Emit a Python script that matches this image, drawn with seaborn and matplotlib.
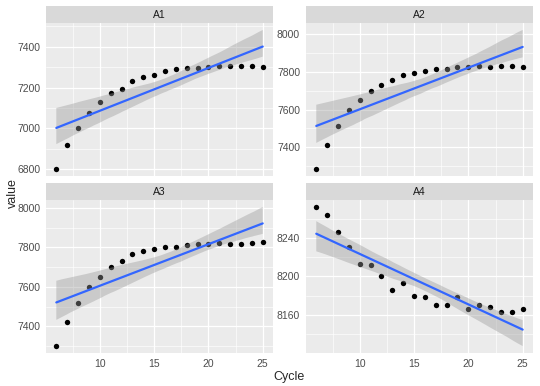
import numpy as np
import pandas as pd
import seaborn as sns
import matplotlib
matplotlib.use("Agg")
import matplotlib.pyplot as plt
from matplotlib.patches import Rectangle
from matplotlib.ticker import MultipleLocator

# values, cycles 6..25
cycles = list(range(6, 26))
a1 = [6800, 6919, 7003, 7076, 7129, 7173, 7195, 7232, 7253, 7261,
      7279, 7290, 7297, 7298, 7300, 7305, 7306, 7308, 7308, 7302]
a2 = [7285, 7412, 7513, 7600, 7649, 7697, 7728, 7756, 7784, 7795,
      7805, 7816, 7812, 7823, 7826, 7831, 7823, 7830, 7831, 7826]
a3 = [7301, 7425, 7521, 7602, 7650, 7702, 7731, 7765, 7782, 7792,
      7800, 7800, 7810, 7818, 7818, 7825, 7820, 7820, 7824, 7829]
a4 = [8272, 8264, 8246, 8230, 8213, 8212, 8200, 8186, 8193, 8180,
      8178, 8170, 8170, 8178, 8166, 8170, 8168, 8163, 8163, 8166]
panels = ["A1", "A2", "A3", "A4"]
y_steps = {"A1": 200, "A2": 200, "A3": 200, "A4": 40}

df = pd.DataFrame({
    "Cycle": cycles * 4,
    "value": a1 + a2 + a3 + a4,
    "panel": np.repeat(panels, len(cycles)),
})

sns.set_style("white")
plt.rcParams["font.family"] = ["Liberation Sans", "DejaVu Sans"]

g = sns.FacetGrid(df, col="panel", col_wrap=2, sharey=False, sharex=True,
                  height=1.93, aspect=1.4, despine=False)
g.map_dataframe(sns.regplot, x="Cycle", y="value", seed=0,
                scatter_kws={"color": "black", "s": 15, "linewidths": 0,
                             "alpha": 1},
                line_kws={"color": "#3366FF", "lw": 1.6})
g.set_titles("")
g.set_axis_labels("", "")

for ax, name in zip(g.axes.flat, panels):
    # recolour the confidence band like ggplot's
    for coll in ax.collections:
        if isinstance(coll, matplotlib.collections.PolyCollection):
            coll.set_alpha(None)
            coll.set_facecolor((0.6, 0.6, 0.6, 0.4))
            coll.set_edgecolor("none")
    ax.set_facecolor("#EBEBEB")
    for s in ax.spines.values():
        s.set_visible(False)
    ax.margins(x=0.05, y=0.05)
    ax.autoscale_view()
    ax.xaxis.set_major_locator(MultipleLocator(5))
    ax.xaxis.set_minor_locator(MultipleLocator(2.5))
    ax.yaxis.set_major_locator(MultipleLocator(y_steps[name]))
    ax.yaxis.set_minor_locator(MultipleLocator(y_steps[name] / 2))
    ax.set_xlim(5.05, 25.95)
    ax.grid(which="major", color="white", lw=0.9)
    ax.grid(which="minor", color="white", lw=0.45)
    ax.set_axisbelow(True)
    ax.tick_params(which="major", length=2.7, width=0.6, color="#333333",
                   labelsize=7.5, labelcolor="#4D4D4D", pad=1.5)
    ax.tick_params(which="minor", length=0)
    ax.add_patch(Rectangle((0, 1), 1, 0.111, transform=ax.transAxes,
                           facecolor="#D9D9D9", edgecolor="none", clip_on=False))
    ax.text(0.5, 1.0555, name, transform=ax.transAxes, ha="center",
            va="center", fontsize=7.5, color="#1A1A1A")

fig = g.figure
fig.set_size_inches(5.4, 3.86)
fig.subplots_adjust(left=0.0852, right=0.987, top=0.9404, bottom=0.0855,
                    hspace=0.157, wspace=0.145)
fig.text(0.536, 0.008, "Cycle", ha="center", va="bottom", fontsize=9)
fig.text(0.012, 0.5, "value", ha="left", va="center", rotation=90, fontsize=9)

fig.savefig("out.png", dpi=100)
